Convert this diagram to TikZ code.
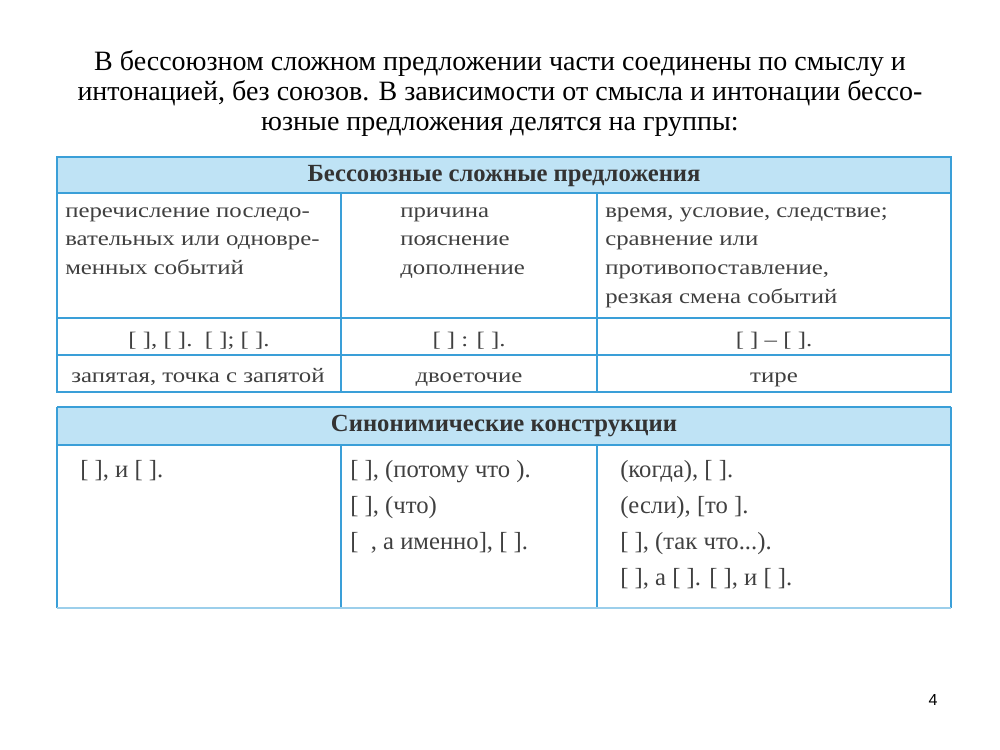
\documentclass[tikz,border=0pt]{standalone}
\usepackage{fontspec}
\setmainfont{Liberation Serif}
\newfontfamily\pagefont{Liberation Sans}
\newfontfamily\widefont[FakeStretch=1.2]{Liberation Serif}
\definecolor{tb}{HTML}{3A9FD8}
\definecolor{hb}{HTML}{BFE3F5}
\begin{document}
\begin{tikzpicture}[x=0.75pt,y=-0.75pt,
  cell/.style={anchor=north west,align=left,font=\widefont\fontsize{15.5}{21.5}\selectfont,inner sep=0pt,text=black!75},
  ctr/.style={anchor=base,font=\widefont\fontsize{15.5}{18}\selectfont,inner sep=0pt,text=black!75},
  syn/.style={anchor=north west,font=\fontsize{18.5}{27}\selectfont,inner sep=0pt,text=black!75},
  hdr/.style={anchor=center,font=\bfseries\fontsize{18.5}{21}\selectfont,inner sep=0pt,text=black!80},
  ln/.style={draw=tb,line width=2pt}]
\useasboundingbox (0,0) rectangle (1000,750);
\node[anchor=north,align=center,font=\fontsize{21}{22.5}\selectfont,inner sep=0pt] (title) at (500,50)
 {В бессоюзном сложном предложении части соединены по смыслу и\\
  интонацией, без союзов. В зависимости от смысла и интонации бессо-\\
  юзные предложения делятся на группы:};
% table 1
\fill[hb] (57,157) rectangle (951,193);
\draw[ln] (57,157) rectangle (951,392);
\draw[ln] (57,193) -- (951,193);
\draw[ln] (57,318) -- (951,318);
\draw[ln] (57,355) -- (951,355);
\draw[ln] (341,193) -- (341,392);
\draw[ln] (597,193) -- (597,392);
\node[hdr] (h1) at (504,176) {Бессоюзные сложные предложения};
\node[cell] (c11) at (65,207) {перечисление последо-\\вательных или одновре-\\менных событий};
\node[cell] (c12) at (400,207) {причина\\пояснение\\дополнение};
\node[cell] (c13) at (605,207) {время, условие, следствие;\\сравнение или\\противопоставление,\\резкая смена событий};
\node[ctr] (s1) at (199,346) {[ ], [ ].\ \ [ ]; [ ].};
\node[ctr] (s2) at (469,346) {[ ] : [ ].};
\node[ctr] (s3) at (774,346) {[ ] – [ ].};
\node[ctr] (p1) at (198,382) {запятая, точка с запятой};
\node[ctr] (p2) at (469,382) {двоеточие};
\node[ctr] (p3) at (774,382) {тире};
% table 2
\fill[hb] (57,407) rectangle (951,445);
\draw[ln] (57,407) -- (951,407);
\draw[ln] (57,445) -- (951,445);
\draw[ln] (57,407) -- (57,608);
\draw[ln] (951,407) -- (951,608);
\draw[ln] (341,445) -- (341,608);
\draw[ln] (597,445) -- (597,608);
\draw[draw=tb!50,line width=1pt] (57,608) -- (951,608);
\node[hdr,font=\bfseries\fontsize{18.5}{21}\selectfont] (h2) at (504,426) {Синонимические конструкции};
\node[syn] (a1) at (80,460) {[ ], и [ ].};
\node[syn,align=left] (a2) at (350,460) {{[} ], (потому что ).\\{[} ], (что)\\{[}\ \ , а именно], [ ].};
\node[syn,align=left] (a3) at (620,460) {(когда), [ ].\\(если), [то ].\\{[} ], (так что...).\\{[} ], а [ ]. [ ], и [ ].};
\node[font=\pagefont\fontsize{12}{14}\selectfont,inner sep=0pt] (pg) at (933,700) {4};
\end{tikzpicture}
\end{document}
